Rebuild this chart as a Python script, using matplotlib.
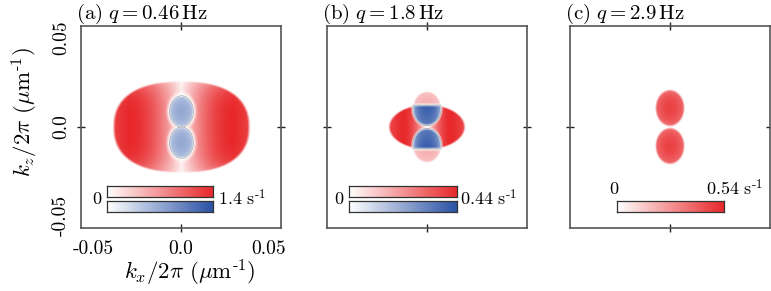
import numpy as np
import matplotlib
matplotlib.use("Agg")
import matplotlib.pyplot as plt
from matplotlib.colors import LinearSegmentedColormap
from matplotlib.ticker import FixedLocator

plt.rcParams['mathtext.fontset'] = 'cm'
plt.rcParams['font.family'] = ['cmr10', 'DejaVu Serif']

W, H = 771, 291
DPI = 100

# ---------------- data ----------------
panel_tags = ['(a)', '(b)', '(c)']
q_values = ['0.46', '1.8', '2.9']          # Hz
rate_max = [1.4, 0.44, 0.54]                # s^-1 (colour-bar maxima)
tick_vals = [-0.05, 0.0, 0.05]
tick_labels = ['-0.05', '0.0', '0.05']
axis_lim = 0.0568

# panel (a): red oval and two blue lobes
a_red_semi = [0.039, 0.026]       # semi-axes (kx, kz)
a_red_peak = 0.030                # |kx| of strongest red
a_red_floor = 0.08                # level at kx = 0
a_blue_centre = [0.0, 0.0088]     # lobe centre (kx, |kz|)
a_blue_semi = [0.0068, 0.0088]
a_blue_level = 0.5                # fraction of max

# panel (b): red side oval, central lobes (red caps / blue cores)
b_red_semi = [0.022, 0.0128]
b_red_peak = 0.014
b_lobe_centre = [0.0, 0.0105]
b_lobe_semi = [0.0082, 0.0097]
b_split = 0.0125                  # |kz| where blue turns to red
b_cap_level = 0.38
b_blue_level = 0.95

# panel (c): two red lobes
c_lobe_centre = [0.0, 0.0107]
c_lobe_semi = [0.0085, 0.0106]
c_lobe_level = 0.88

red_cmap = LinearSegmentedColormap.from_list('r', ['#ffffff', '#e8282b'])
blue_cmap = LinearSegmentedColormap.from_list('b', ['#ffffff', '#2a52a6'])

# ---------------- fields ----------------
N = 501
g = np.linspace(-axis_lim, axis_lim, N)
X, Y = np.meshgrid(g, g)
AX, AY = np.abs(X), np.abs(Y)


def soft(r, w):
    return np.clip((1.0 - r) / w, 0, 1)


def lobe_r(centre, semi):
    r1 = np.hypot((X - centre[0]) / semi[0], (Y - centre[1]) / semi[1])
    r2 = np.hypot((X - centre[0]) / semi[0], (Y + centre[1]) / semi[1])
    return np.minimum(r1, r2)


def field_a():
    p = 2.4
    rr = ((AX / a_red_semi[0]) ** p + (AY / a_red_semi[1]) ** p) ** (1 / p)
    prof = a_red_floor + (1 - a_red_floor) * np.sin(np.pi / 2 * np.minimum(AX / a_red_peak, 1)) ** 0.9
    prof *= 1 - 0.12 * np.clip((AX - a_red_peak) / (a_red_semi[0] - a_red_peak), 0, 1)
    prof *= 1 - 0.35 * np.clip(AY / a_red_semi[1], 0, 1) ** 4
    R = prof * soft(rr, 0.04)
    rb = lobe_r(a_blue_centre, a_blue_semi)
    R *= np.clip((rb - 1.05) / 0.3, 0, 1) ** 0.7
    B = a_blue_level * (1 - 0.35 * rb ** 2) * soft(rb, 0.1)
    return R, B


def field_b():
    rr = np.hypot(X / b_red_semi[0], Y / b_red_semi[1])
    prof = np.sin(np.pi / 2 * np.minimum(AX / b_red_peak, 1)) ** 0.8
    prof *= 1 - 0.15 * np.clip((AX - b_red_peak) / (b_red_semi[0] - b_red_peak), 0, 1)
    R = prof * soft(rr, 0.06)
    rb = lobe_r(b_lobe_centre, b_lobe_semi)
    R *= np.clip((rb - 1.0) / 0.12, 0, 1)
    line = np.clip(np.abs(AY - b_split) / 0.0012, 0, 1)
    inside = soft(rb, 0.1)
    cap = (AY > b_split)
    R = R + cap * b_cap_level * (1 - 0.3 * rb ** 2) * inside * line
    B = (~cap) * b_blue_level * np.clip(1 - (X / b_lobe_semi[0]) ** 2, 0, 1) ** 0.35 \
        * (0.8 + 0.2 * np.clip(AY / b_split, 0, 1)) * inside * line
    return R, B


def field_c():
    rb = lobe_r(c_lobe_centre, c_lobe_semi)
    R = c_lobe_level * (1 - 0.25 * rb ** 2) * soft(rb, 0.12)
    return R, np.zeros_like(R)


fields = [field_a(), field_b(), field_c()]

# ---------------- figure ----------------
fig = plt.figure(figsize=(W / DPI, H / DPI), dpi=DPI)


def fx(px):
    return px / W


def fy(py):
    return 1 - py / H


ax_left_px = [81, 327, 570]
ax_top_px, ax_bot_px = 26, 228
ax_w_px = 200
spine_col = '#555555'
FS_TICK = 14
FS_TITLE = 15
FS_CB = 13
FS_LAB = 16.5

for i in range(3):
    ax = fig.add_axes([fx(ax_left_px[i]), fy(ax_bot_px), ax_w_px / W,
                       (ax_bot_px - ax_top_px) / H])
    R, B = fields[i]
    ext = [-axis_lim, axis_lim, -axis_lim, axis_lim]
    ax.imshow(R * rate_max[i], cmap=red_cmap, vmin=0, vmax=rate_max[i],
              extent=ext, origin='lower', interpolation='bilinear')
    Bm = np.ma.masked_where(B <= 0.004, B * rate_max[i])
    ax.imshow(Bm, cmap=blue_cmap, vmin=0, vmax=rate_max[i],
              extent=ext, origin='lower', interpolation='bilinear')
    ax.set_xlim(-axis_lim, axis_lim)
    ax.set_ylim(-axis_lim, axis_lim)
    ax.set_aspect('auto')
    for s in ax.spines.values():
        s.set_color(spine_col)
        s.set_linewidth(1.2)
    ax.set_xticks(tick_vals)
    ax.set_yticks(tick_vals)
    ax.xaxis.remove_overlapping_locs = False
    ax.yaxis.remove_overlapping_locs = False
    ax.xaxis.set_minor_locator(FixedLocator([0.0]))
    ax.yaxis.set_minor_locator(FixedLocator([0.0]))
    ax.tick_params(which='major', length=0)
    ax.tick_params(which='minor', length=6, width=1.0, direction='inout',
                   color='#222222', top=True, right=True)
    if i == 0:
        ax.set_xticklabels(tick_labels, fontsize=FS_TICK, family='cmr10')
        ax.set_yticklabels(tick_labels, fontsize=FS_TICK, family='cmr10',
                           rotation=90, va='center')
        ax.tick_params(axis='x', which='major', pad=9)
        ax.tick_params(axis='y', which='major', pad=8)
    else:
        ax.set_xticklabels([])
        ax.set_yticklabels([])

    # title
    fig.text(fx(ax_left_px[i] - 5), fy(14),
             r'$\mathrm{%s}\ q{=}%s\,\mathrm{Hz}$' % (panel_tags[i], q_values[i]),
             fontsize=FS_TITLE, ha='left', va='center')

# axis labels
fig.text(fx(25), fy(112), r'$k_z/2\pi\ (\mu\mathrm{m}^{\text{-}1})$',
         rotation=90, fontsize=FS_LAB, ha='center', va='center')
fig.text(fx(190), fy(273), r'$k_x/2\pi\ (\mu\mathrm{m}^{\text{-}1})$',
         fontsize=FS_LAB, ha='center', va='center')


# colour bars
def cbar(x0, x1, y0, y1, cmap):
    cax = fig.add_axes([fx(x0), fy(y1), (x1 - x0) / W, (y1 - y0) / H])
    cax.imshow(np.linspace(0, 1, 256)[None, :], cmap=cmap, aspect='auto',
               extent=[0, 1, 0, 1])
    cax.set_xticks([])
    cax.set_yticks([])
    for s in cax.spines.values():
        s.set_color('#333333')
        s.set_linewidth(0.9)


def unit_label(v):
    return r'$%s\ \mathrm{s}^{\text{-}1}$' % v


# (a)
cbar(107, 213, 186, 197, red_cmap)
cbar(107, 213, 201, 212, blue_cmap)
fig.text(fx(97), fy(199), r'$0$', fontsize=FS_CB, ha='center', va='center')
fig.text(fx(218), fy(198), unit_label(rate_max[0]), fontsize=FS_CB, ha='left', va='center')
# (b)
cbar(349, 457, 186, 197, red_cmap)
cbar(349, 457, 201, 212, blue_cmap)
fig.text(fx(339), fy(199), r'$0$', fontsize=FS_CB, ha='center', va='center')
fig.text(fx(460), fy(198), unit_label(rate_max[1]), fontsize=FS_CB, ha='left', va='center')
# (c)
cbar(617, 724, 201, 212, red_cmap)
fig.text(fx(614), fy(189), r'$0$', fontsize=FS_CB, ha='center', va='center')
fig.text(fx(763), fy(188), unit_label(rate_max[2]), fontsize=FS_CB, ha='right', va='center')

fig.savefig('out.png', dpi=DPI)
